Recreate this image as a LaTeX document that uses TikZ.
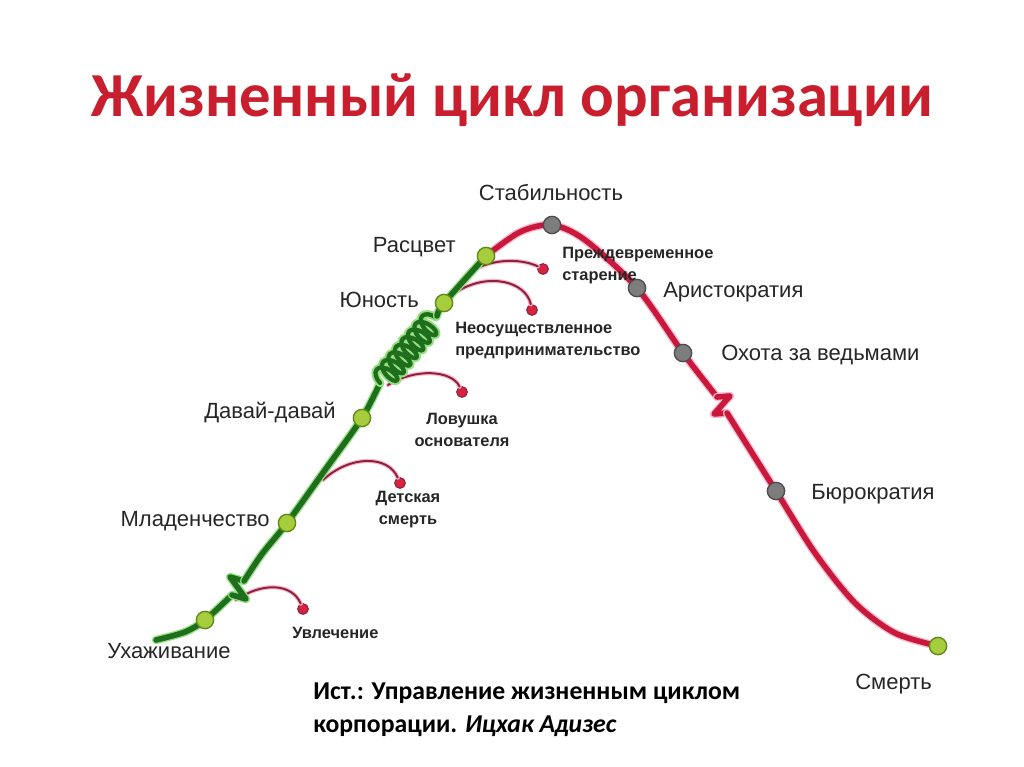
\documentclass[tikz,border=0pt]{standalone}
\usepackage{fontspec}
\setmainfont{Carlito}
\newfontfamily\arialfont{Liberation Sans}
\usepackage{xcolor}
\usetikzlibrary{decorations.pathmorphing}
\definecolor{lifegreen}{RGB}{30,110,30}
\definecolor{glowgreen}{RGB}{150,225,130}
\definecolor{dotgreen}{RGB}{165,205,60}
\definecolor{dotgreenrim}{RGB}{95,135,25}
\definecolor{lifered}{RGB}{200,25,60}
\definecolor{glowpink}{RGB}{250,185,205}
\definecolor{branchred}{RGB}{140,35,60}
\definecolor{dotred}{RGB}{215,35,65}
\definecolor{dotgrey}{RGB}{125,125,125}
\definecolor{titlered}{RGB}{200,30,45}

\begin{document}
\begin{tikzpicture}[x=0.75pt, y=-0.75pt,
  greenline/.style={draw=lifegreen, line width=4.2pt, line cap=round, line join=round,
    preaction={draw=glowgreen, line width=6.2pt, line cap=round, line join=round}},
  redline/.style={draw=lifered, line width=4.2pt, line cap=round, line join=round,
    preaction={draw=glowpink, line width=6.2pt, line cap=round, line join=round}},
  branch/.style={draw=branchred, line width=1.5pt, line cap=round,
    preaction={draw=glowpink, line width=3.2pt, line cap=round}},
  greendot/.style={circle, fill=dotgreen, draw=dotgreenrim, line width=1pt, minimum size=13pt, inner sep=0pt},
  greydot/.style={circle, fill=dotgrey, draw=black!70, line width=1pt, minimum size=13pt, inner sep=0pt},
  reddot/.style={circle, fill=dotred, draw=branchred, line width=0.8pt, minimum size=8pt, inner sep=0pt},
  stage/.style={font=\arialfont\fontsize{16.5}{19}\selectfont, text=black!85, inner sep=0pt},
  trap/.style={font=\arialfont\bfseries\fontsize{12.3}{16.5}\selectfont, text=black!85, inner sep=0pt}]
  \useasboundingbox (0,0) rectangle (1024,767);

  % title
  \node[font=\bfseries\fontsize{47}{52}\selectfont, text=titlered] (title) at (512,100) {Жизненный цикл организации};

  % points on the curve
  \coordinate (gstart) at (156,640);
  \coordinate (pcourt) at (205,620);
  \coordinate (zigA) at (232,595);
  \coordinate (zigB) at (244,581);
  \coordinate (pinfancy) at (287,523);
  \coordinate (pgogo) at (362,418);
  \coordinate (sprA) at (380,383);
  \coordinate (sprB) at (437,316);
  \coordinate (pyouth) at (444,303);
  \coordinate (pprime) at (486,256);
  \coordinate (pstable) at (552,225);
  \coordinate (paristo) at (637,288);
  \coordinate (pwitch) at (683,353);
  \coordinate (rzigA) at (717,397);
  \coordinate (rzigB) at (727,413);
  \coordinate (pbureau) at (776,491);
  \coordinate (pdeath) at (938,646);

  % branch starts
  \coordinate (bcraze) at (236,600);
  \coordinate (binfant) at (323,480);
  \coordinate (bfounder) at (388,385);
  \coordinate (bentre) at (458,291);
  \coordinate (baging) at (468,273);

  % dead ends
  \node[reddot] (craze) at (303,609) {};
  \node[reddot] (infant) at (400,483) {};
  \node[reddot] (founder) at (462,392) {};
  \node[reddot] (entre) at (532,310) {};
  \node[reddot] (aging) at (543,269) {};

  % side branches
  \draw[branch] (bcraze) .. controls (262,582) and (292,583) .. (craze);
  \draw[branch] (binfant) .. controls (350,455) and (388,455) .. (infant);
  \draw[branch] (bfounder) .. controls (415,368) and (452,370) .. (founder);
  \draw[branch] (bentre) .. controls (490,272) and (526,282) .. (entre);
  \draw[branch] (baging) .. controls (495,256) and (525,260) .. (aging);

  % growth (green)
  \draw[greenline] plot[smooth] coordinates {(gstart) (185,632) (pcourt) (zigA)};
  \draw[greenline] (zigA) -- (246,599) -- (230,577) -- (zigB);
  \draw[greenline] plot[smooth] coordinates {(zigB) (262,554) (pinfancy) (325,470) (pgogo) (sprA)};
  \draw[greenline, line width=3.2pt, decorate, decoration={coil, amplitude=8.5pt, segment length=7.5pt}] (sprA) -- (sprB);
  \draw[greenline] plot[smooth] coordinates {(sprB) (pyouth) (pprime)};

  % ageing (red)
  \draw[redline] plot[smooth] coordinates {(pprime) (520,232) (pstable) (585,240) (paristo) (pwitch) (rzigA)};
  \draw[redline] (rzigA) -- (730,396) -- (714,414) -- (rzigB);
  \draw[redline] plot[smooth] coordinates {(rzigB) (pbureau) (815,553) (855,603) (895,633) (pdeath)};

  % stage dots
  \node[greendot] (court) at (pcourt) {};
  \node[greendot] (infancy) at (pinfancy) {};
  \node[greendot] (gogo) at (pgogo) {};
  \node[greendot] (youth) at (pyouth) {};
  \node[greendot] (prime) at (pprime) {};
  \node[greydot] (stable) at (pstable) {};
  \node[greydot] (aristo) at (paristo) {};
  \node[greydot] (witch) at (pwitch) {};
  \node[greydot] (bureau) at (pbureau) {};
  \node[greendot] (death) at (pdeath) {};

  % stage labels
  \node[stage] (stablelbl) at (551,193) {Стабильность};
  \node[stage, anchor=east] (primelbl) at (456,247) {Расцвет};
  \node[stage, anchor=east] (youthlbl) at (419,300) {Юность};
  \node[stage, anchor=east] (gogolbl) at (336,413) {Давай-давай};
  \node[stage, anchor=east] (infancylbl) at (270,521) {Младенчество};
  \node[stage, anchor=west] (courtlbl) at (107,651) {Ухаживание};
  \node[stage, anchor=west] (aristolbl) at (663,292) {Аристократия};
  \node[stage, anchor=west] (witchlbl) at (721,355) {Охота за ведьмами};
  \node[stage, anchor=west] (bureaulbl) at (811,494) {Бюрократия};
  \node[stage, anchor=west] (deathlbl) at (855,684) {Смерть};

  % trap labels
  \node[trap, anchor=west] (crazelbl) at (292,633) {Увлечение};
  \node[trap, align=center] (infantlbl) at (408,510) {Детская\\смерть};
  \node[trap, align=center] (founderlbl) at (462,430) {Ловушка\\основателя};
  \node[trap, anchor=west, align=left] (entrelbl) at (455,341) {Неосуществленное\\предпринимательство};
  \node[trap, anchor=west, align=left] (aginglbl) at (562,266) {Преждевременное\\старение};

  % source
  \node[font=\bfseries\fontsize{19.3}{25}\selectfont, anchor=west, align=left, inner sep=0pt] (source) at (313,710)
    {Ист.: Управление жизненным циклом\\корпорации. \textit{Ицхак Адизес}};
\end{tikzpicture}
\end{document}
